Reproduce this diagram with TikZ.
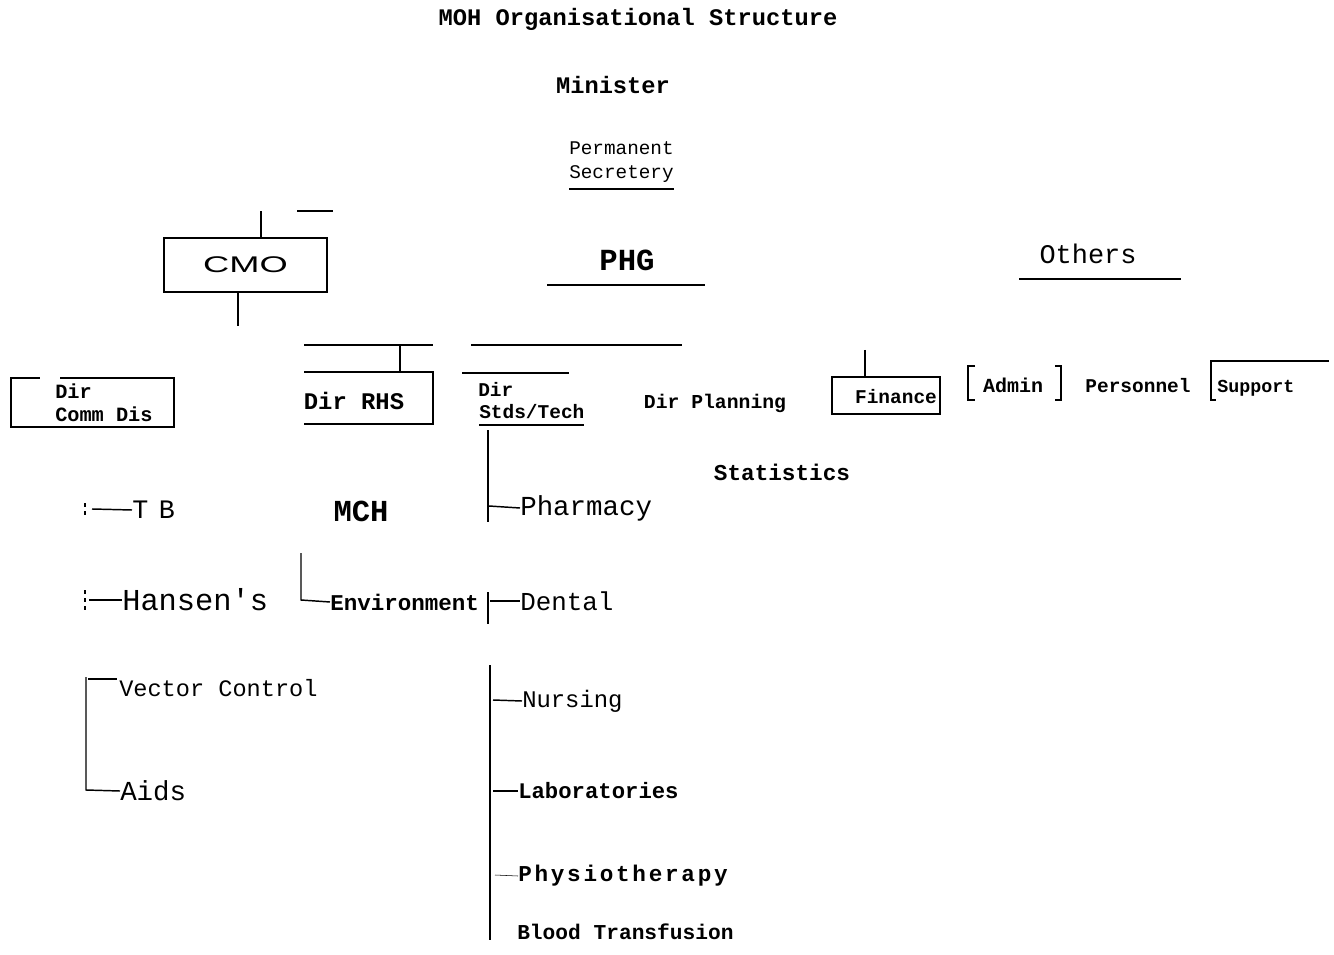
\documentclass[tikz,border=0pt]{standalone}
\usepackage{fontspec}
\setmonofont{Liberation Mono}
\setsansfont{Liberation Sans}
\newcommand{\fsz}[1]{\fontsize{#1}{#1}\selectfont}
\newcommand{\spaced}[1]{\addfontfeature{LetterSpace=#1}}
\tikzset{
  lbl/.style={font=\ttfamily\fsz{#1}, inner sep=0pt, anchor=west},
  bld/.style={font=\ttfamily\bfseries\fsz{#1}, inner sep=0pt, anchor=west},
  ln/.style={line width=1.1pt},
  thk/.style={line width=2pt},
}
\begin{document}
\begin{tikzpicture}[x=0.75pt,y=-0.75pt]
\useasboundingbox (0,0) rectangle (1334,955);

% heading
\node[bld=17.8, anchor=center] (title) at (638,19) {MOH Organisational Structure};
\node[bld=17.8, anchor=center] (minister) at (613,85) {Minister};
\node[lbl=14.5, align=left] (permsec) at (569,162) {Permanent\\[4pt]Secretery};
\draw[thk] (569,189) -- (674,189);

% CMO
\node[draw, ln, minimum width=122.3pt, minimum height=40.5pt, inner sep=0pt,
  font=\sffamily\fsz{17}] (cmo) at (245.5,265) {\scalebox{1.6}[1]{CMO}};
\draw[ln] ([xshift=11.6pt]cmo.north) -- ++(0,-26);
\draw[ln] (297,211) -- (333,211);
\draw[ln] ([xshift=-5.6pt]cmo.south) -- ++(0,33);

% PHG and others
\node[bld=23, anchor=center] (phg) at (627,260) {PHG};
\draw[ln] (547,285) -- (705,285);
\node[lbl=20.2, anchor=center] (others) at (1088,254) {Others};
\draw[ln] (1019,279) -- (1181,279);
\draw[ln] (471,345) -- (682,345);

% directors
\draw[ln] (60,378) -- (174,378) -- (174,427) -- (11,427) -- (11,378) -- (40,378);
\node[bld=15.2, align=left] (commdis) at (55,403) {Dir\\[2pt]Comm Dis};
\draw[ln] (304,345) -- (433,345);
\draw[ln] (400,345) -- (400,372);
\draw[ln] (304,372) -- (433,372) -- (433,424) -- (304,424);
\node[bld=17.9, anchor=center] (rhs) at (354,401) {Dir RHS};
\draw[ln] (462,373) -- (569,373);
\node[bld=14.6] (stdsdir) at (478,389) {Dir};
\node[bld=14.6] (stds) at (479,412) {Stds/Tech};
\draw[thk] (479,425) -- (584,425);
\node[bld=14.8, anchor=center] (planning) at (715,403) {Dir Planning};
\node[bld=17, anchor=center] (stats) at (782,472) {Statistics};

% others row
\draw[ln] (865,350) -- (865,377);
\draw[ln] (832,377) rectangle (940,414);
\node[bld=14.6, anchor=center] (finance) at (896,397) {Finance};
\draw[ln] (975,366) -- (968,366) -- (968,400) -- (975,400);
\node[bld=15, anchor=center] (admin) at (1013,385) {Admin};
\draw[ln] (1055,366) -- (1061,366) -- (1061,400) -- (1055,400);
\node[bld=14.6, anchor=center] (personnel) at (1138,386) {Personnel};
\draw[ln] (1329,361) -- (1211,361) -- (1211,400) -- (1216,400);
\node[bld=13.75] (support) at (1217,388) {Support};

% comm dis branch
\node[lbl=20, font=\ttfamily\fsz{20}\spaced{40}] (tb) at (132,510) {TB};
\node[lbl=22.8] (hansen) at (122,600) {Hansen's};
\node[lbl=17.7] (vector) at (119,688) {Vector Control};
\node[lbl=20.6] (aids) at (120,791) {Aids};
\draw[ln, dashed] (85,503) -- (85,516);
\draw[ln] (92,509) -- (tb.west);
\draw[ln, dashed] (85,590) -- (85,611);
\draw[ln] (89,600) -- (hansen.west);
\draw[ln] (88,679) -- (117,679);
\draw[ln] (86,677) -- (86,790) -- (aids.west);

% RHS branch
\node[bld=22.9, anchor=center] (mch) at (361,511) {MCH};
\node[bld=16.9] (env) at (330,602) {Environment};
\draw[ln] (301,553) -- (301,600) -- (env.west);

% Stds/Tech branch
\node[lbl=20.6] (pharm) at (520,508) {Pharmacy};
\node[lbl=19.4] (dental) at (520,601) {Dental};
\node[lbl=17.9] (nursing) at (522,701) {Nursing};
\node[bld=16.7] (labs) at (518,791) {Laboratories};
\node[bld=17, font=\ttfamily\bfseries\fsz{17}\spaced{12}] (physio) at (518,876) {Physiotherapy};
\node[bld=15.9] (blood) at (517,932) {Blood Transfusion};
\draw[ln] (488,430) -- (488,522);
\draw[ln] (489,506) -- (pharm.west);
\draw[ln] (488,592) -- (488,624);
\draw[ln] (490,601) -- (dental.west);
\draw[ln] (490,665) -- (490,940);
\draw[ln] (493,700) -- (nursing.west);
\draw[ln] (493,791) -- (labs.west);
\draw (495,875) -- (physio.west);
\end{tikzpicture}
\end{document}
